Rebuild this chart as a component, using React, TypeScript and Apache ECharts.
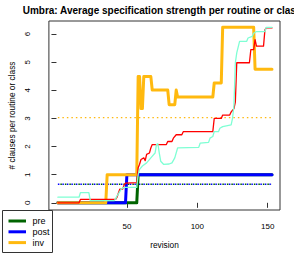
import React, { useEffect, useRef } from "react";
import * as echarts from "echarts";

// ---- data (revision, value) ----
const preSteps: number[][] = [[1, 0], [57, 0], [58, 1], [153, 1]];
const postSteps: number[][] = [[1, 0], [49, 0], [50, 1], [153, 1]];
const invSteps: number[][] = [
  [1, 0], [35, 0], [36, 1], [57, 1], [58, 4.49], [59, 4.49], [60, 3.35], [61, 3.35],
  [62, 4.49], [67, 4.49], [68, 4.01], [79, 4.01], [80, 3.49], [84, 3.49], [85, 4.01],
  [86, 3.76], [111, 3.76], [112, 4.26], [117, 4.26], [118, 6.24], [140, 6.24],
  [141, 4.75], [153, 4.75],
];
const routineSteps: number[][] = [
  [1, 0], [16, 0], [17, 0.12], [42, 0.12], [43, 0.2], [44, 0.35], [45, 0.49], [47, 0.49],
  [48, 0.63], [49, 0.7], [57, 0.72], [58, 1.25], [59, 1.37], [60, 1.54], [62, 1.6],
  [63, 1.5], [64, 1.72], [66, 1.77], [67, 1.95], [68, 2.07], [78, 2.07], [79, 2.18],
  [82, 2.18], [83, 2.3], [85, 2.42], [89, 2.42], [90, 2.53], [111, 2.53], [112, 3.0],
  [117, 3.0], [118, 3.12], [123, 3.12], [124, 3.23], [126, 3.35], [127, 3.58],
  [128, 4.98], [137, 4.98], [138, 5.45], [140, 5.45], [141, 5.8], [142, 5.57],
  [147, 5.57], [148, 6.15], [149, 6.22], [153, 6.22],
];
const classSteps: number[][] = [
  [1, 0.2], [16, 0.2], [17, 0.36], [23, 0.36], [24, 0.08], [41, 0.08], [42, 0.14],
  [43, 0.25], [44, 0.32], [46, 0.49], [48, 0.55], [57, 0.55], [58, 1.0], [59, 1.19],
  [61, 1.31], [64, 1.42], [67, 1.6], [70, 1.77], [71, 2.07], [72, 2.1], [73, 1.77],
  [74, 1.48], [76, 1.37], [80, 1.38], [82, 1.42], [84, 1.6], [86, 1.95], [101, 1.97],
  [102, 2.12], [108, 2.15], [109, 2.3], [111, 2.36], [112, 2.53], [115, 2.53],
  [116, 2.65], [118, 2.71], [124, 2.77], [125, 3.0], [126, 3.47], [127, 4.98],
  [128, 5.33], [130, 5.74], [135, 5.74], [136, 5.86], [139, 5.92], [140, 6.03],
  [142, 6.09], [148, 6.09], [149, 6.24], [153, 6.24],
];
const meanRange = [1, 153];
const preMean = 0.66;
const postMean = 0.66;
const invMean = 3.03;

const xTicks = [50, 100, 150];
const yTicks = [0, 1, 2, 3, 4, 5, 6];
const legendNames = ["pre", "post", "inv"];
const legendColors = ["#006400", "#0000FF", "#FFB90F"];

const titleText = "Umbra: Average specification strength per routine or class";
const xName = "revision";
const yName = "# clauses per routine or class";

const FONT = "'Liberation Sans', Arial, Helvetica, sans-serif";

export default function App() {
  const ref = useRef<HTMLDivElement>(null);
  useEffect(() => {
    if (!ref.current) return;
    const chart = echarts.init(ref.current, null, { renderer: "svg" });

    const thick = (name: string, data: number[][], color: string) => ({
      name,
      type: "line",
      data,
      symbol: "none",
      silent: true,
      lineStyle: { color, width: 3, cap: "round", join: "round" },
    });
    const thin = (name: string, data: number[][], color: string) => ({
      name,
      type: "line",
      data,
      symbol: "none",
      silent: true,
      lineStyle: { color, width: 1.3, cap: "round", join: "round" },
    });
    const dotted = (name: string, v: number, color: string, offset: number) => ({
      name,
      type: "line",
      data: [[meanRange[0], v], [meanRange[1], v]],
      symbol: "none",
      silent: true,
      lineStyle: { color, width: 1.3, type: [1.5, 3], dashOffset: offset },
    });

    const legendGraphics: any[] = [
      {
        type: "rect",
        shape: { x: 2.5, y: 210.5, width: 50, height: 42 },
        style: { fill: "#fff", stroke: "#333", lineWidth: 1 },
        z: 100,
      },
    ];
    legendNames.forEach((n, i) => {
      const y = 221 + i * 10.8;
      legendGraphics.push({
        type: "line",
        shape: { x1: 8.5, y1: y, x2: 26, y2: y },
        style: { stroke: legendColors[i], lineWidth: 3 },
        z: 101,
      });
      legendGraphics.push({
        type: "text",
        x: 32.5,
        y,
        style: {
          text: n,
          fill: "#000",
          font: `9px ${FONT}`,
          textVerticalAlign: "middle",
          verticalAlign: "middle",
        },
        z: 101,
      });
    });

    chart.setOption({
      animation: false,
      backgroundColor: "#fff",
      textStyle: { fontFamily: FONT },
      title: {
        text: titleText,
        left: 22.7,
        top: 5,
        padding: 0,
        textStyle: { fontSize: 10, fontWeight: "bold", color: "#000", fontFamily: FONT },
      },
      grid: {
        left: 40,
        top: 21,
        width: 240,
        height: 192,
        show: true,
        borderColor: "#333",
        borderWidth: 1,
        backgroundColor: "transparent",
        containLabel: false,
      },
      xAxis: {
        type: "value",
        min: -5.37,
        max: 158.7,
        name: xName,
        nameLocation: "middle",
        nameGap: 31,
        nameTextStyle: { fontSize: 8.3, color: "#000", fontFamily: FONT },
        axisLine: { show: false },
        axisTick: { show: true, length: 5, customValues: xTicks, lineStyle: { color: "#333" } },
        axisLabel: { customValues: xTicks, margin: 12, fontSize: 8, color: "#000", fontFamily: FONT },
        splitLine: { show: false },
      },
      yAxis: {
        type: "value",
        min: -0.2555,
        max: 6.465,
        name: yName,
        nameLocation: "middle",
        nameGap: 29,
        nameTextStyle: { fontSize: 8.3, color: "#000", fontFamily: FONT },
        axisLine: { show: false },
        axisTick: { show: true, length: 5, customValues: yTicks, lineStyle: { color: "#333" } },
        axisLabel: { customValues: yTicks, rotate: 90, margin: 17, fontSize: 8, color: "#000", fontFamily: FONT },
        splitLine: { show: false },
      },
      series: [
        dotted("pre mean", preMean, legendColors[0], 2.25),
        dotted("post mean", postMean, legendColors[1], 0),
        dotted("inv mean", invMean, legendColors[2], 0),
        thick("pre", preSteps, legendColors[0]),
        thick("post", postSteps, legendColors[1]),
        thick("inv", invSteps, legendColors[2]),
        thin("routine", routineSteps, "#FF0000"),
        thin("class", classSteps, "#7FFFD4"),
      ],
      graphic: legendGraphics,
    });
    return () => chart.dispose();
  }, []);
  return (
    <div
      ref={ref}
      style={{ position: "fixed", left: 0, top: 0, width: 294, height: 254 }}
    />
  );
}
